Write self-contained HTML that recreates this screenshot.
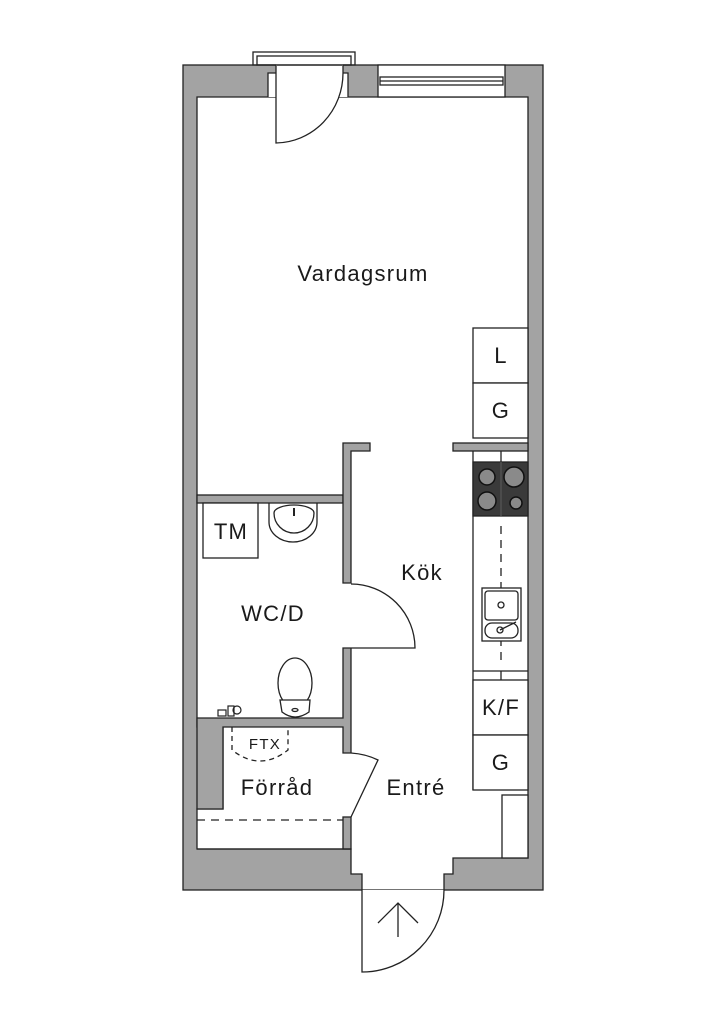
<!DOCTYPE html>
<html><head><meta charset="utf-8"><style>
html,body{margin:0;padding:0;background:#fff;}
svg{display:block;}
text{font-family:"Liberation Sans",sans-serif;fill:#1a1a1a;text-anchor:middle;letter-spacing:1.3px;}
</style></head><body>
<svg width="724" height="1024" viewBox="0 0 724 1024" xmlns="http://www.w3.org/2000/svg">
<g stroke="#222" stroke-width="1.3">
<rect x="183" y="65" width="360" height="825" fill="#a3a3a3"/>
<polygon fill="#fff" points="197,97 528,97 528,858 453,858 453,874 444,874 444,890 362,890 362,874 351,874 351,849 197,849 197,809 223,809 223,727 197,727"/>
<polygon fill="#fff" stroke="none" points="268,97 268,73 276,73 276,65 343,65 343,73 348,73 348,97"/>
<polyline fill="none" points="268,97 268,73 276,73 276,65"/>
<polyline fill="none" points="348,97 348,73 343,73 343,65"/>
<line x1="276" y1="65" x2="343" y2="65" stroke="#fff" stroke-width="2"/>
<rect x="253" y="52" width="102" height="13" fill="none"/>
<rect x="257" y="56" width="94" height="9" fill="none"/>
<rect x="378" y="65" width="127" height="32" fill="#fff"/>
<rect x="380" y="77" width="123" height="8" fill="none"/>
<line x1="380" y1="81" x2="503" y2="81"/>
<path d="M276,73 L276,143 A68,70 0 0 0 343,73" fill="#fff"/>
<rect x="197" y="495" width="146" height="8" fill="#a3a3a3"/>
<polygon fill="#a3a3a3" points="343,443 370,443 370,451 351,451 351,583 343,583"/>
<rect x="453" y="443" width="75" height="8" fill="#a3a3a3"/>
<polygon fill="#a3a3a3" points="343,648 351,648 351,753 343,753 343,727 223,727 223,809 197,809 197,718 343,718"/>
<rect x="343" y="817" width="8" height="32" fill="#a3a3a3"/>
<line x1="197" y1="849" x2="351" y2="849"/>
<path d="M351,584 A64,64 0 0 1 415,648 L351,648" fill="#fff"/>
<path d="M351,753 Q366,754 378,760 L351,817" fill="#fff"/>
<path d="M362,890 L362,972 A82,82 0 0 0 444,890" fill="#fff"/>
<line x1="398" y1="903" x2="398" y2="937"/>
<polyline fill="none" points="378,923 398,903 418,923"/>
<rect x="473" y="328" width="55" height="55" fill="#fff"/>
<rect x="473" y="383" width="55" height="55" fill="#fff"/>
<line x1="473" y1="451" x2="473" y2="790"/>
<line x1="501" y1="451" x2="501" y2="462"/>
<rect x="473" y="462" width="55" height="54" fill="#3a3a3a"/>
<line x1="501" y1="462" x2="501" y2="516" stroke="#555"/>
<circle cx="487" cy="477" r="8" fill="#8a8a8a" stroke="#111" stroke-width="1.5"/>
<circle cx="514" cy="477" r="10" fill="#8a8a8a" stroke="#111" stroke-width="1.5"/>
<circle cx="487" cy="501" r="9" fill="#8a8a8a" stroke="#111" stroke-width="1.5"/>
<circle cx="516" cy="503" r="6" fill="#8a8a8a" stroke="#111" stroke-width="1.5"/>
<line x1="501" y1="526" x2="501" y2="666" stroke-dasharray="8,6"/>
<rect x="482" y="588" width="39" height="53" fill="#fff"/>
<rect x="485" y="591" width="33" height="29" rx="3" fill="#fff"/>
<rect x="485" y="623" width="33" height="15" rx="7" fill="#fff"/>
<circle cx="501" cy="605" r="3" fill="none"/>
<circle cx="500" cy="630" r="3" fill="none"/>
<line x1="500" y1="630" x2="516" y2="622"/>
<line x1="473" y1="671" x2="528" y2="671"/>
<line x1="501" y1="671" x2="501" y2="680"/>
<rect x="473" y="680" width="55" height="55" fill="#fff"/>
<rect x="473" y="735" width="55" height="55" fill="#fff"/>
<rect x="502" y="795" width="26" height="63" fill="#fff"/>
<rect x="203" y="503" width="55" height="55" fill="#fff"/>
<path d="M269,503 L269,522 A24,20 0 0 0 317,522 L317,503" fill="none"/>
<path d="M274,513 A20,20 0 0 0 314,513 A20,8 0 0 0 274,513 Z" fill="none"/>
<line x1="294" y1="508" x2="294" y2="516" stroke-width="2"/>
<ellipse cx="295" cy="683" rx="17" ry="25" fill="#fff"/>
<path d="M280,700 L310,700 L309,712 Q295,722 282,712 Z" fill="#fff"/>
<ellipse cx="295" cy="710" rx="3" ry="1.5" fill="none"/>
<g fill="none" stroke-width="1.2"><rect x="218" y="710" width="8" height="6"/><rect x="228" y="706" width="6" height="10"/><circle cx="237" cy="710" r="4"/></g>
<path d="M232,727 L232,750 Q260,772 288,750 L288,727" fill="none" stroke-dasharray="5,4"/>
<line x1="197" y1="820" x2="343" y2="820" stroke-dasharray="8,6"/>
</g>
<text x="363" y="281" font-size="22">Vardagsrum</text>
<text x="422" y="580" font-size="22">Kök</text>
<text x="273" y="621" font-size="22" letter-spacing="3">WC/D</text>
<text x="231" y="539" font-size="22">TM</text>
<text x="265" y="749" font-size="15">FTX</text>
<text x="277" y="795" font-size="22">Förråd</text>
<text x="416" y="795" font-size="22">Entré</text>
<text x="501" y="363" font-size="22">L</text>
<text x="501" y="418" font-size="22">G</text>
<text x="501" y="715" font-size="22">K/F</text>
<text x="501" y="770" font-size="22">G</text>
</svg>
</body></html>
